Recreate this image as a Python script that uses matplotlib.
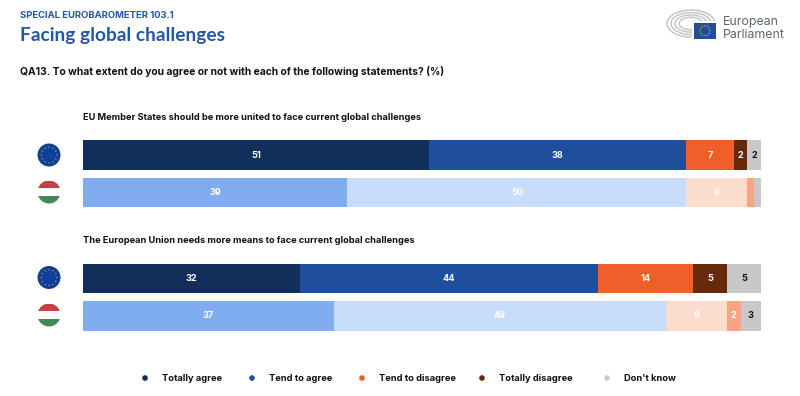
import numpy as np
import matplotlib
matplotlib.use("Agg")
import matplotlib.pyplot as plt
from matplotlib.patches import Circle, Rectangle, Ellipse

plt.rcParams['font.family'] = ['Inter', 'DejaVu Sans']

categories = ["Totally agree", "Tend to agree", "Tend to disagree", "Totally disagree", "Don't know"]
eu_united = [51, 38, 7, 2, 2]
hu_united = [39, 50, 9, 1, 1]
eu_means = [32, 44, 14, 5, 5]
hu_means = [37, 49, 9, 2, 3]
statements = ["EU Member States should be more united to face current global challenges",
              "The European Union needs more means to face current global challenges"]
eu_colors = ["#122e5a", "#1f4e9c", "#ee5f2a", "#662909", "#c8c8c8"]
hu_colors = ["#80adf0", "#c8dcfb", "#fbdccd", "#f6a481", "#c8c8c8"]
label_colors = ["white", "white", "white", "white", "#111111"]

W, H = 800, 396
fig = plt.figure(figsize=(8, 3.96), dpi=100, facecolor="white")

# pixel overlay
ov = fig.add_axes([0, 0, 1, 1])
ov.set_xlim(0, W); ov.set_ylim(H, 0); ov.axis("off")

# bars
ax = fig.add_axes([83/W, (H-331)/H, 678/W, 191/H])
ax.set_xlim(0, 100); ax.set_ylim(331, 140); ax.axis("off")
rows = [(155, eu_united, eu_colors), (192.5, hu_united, hu_colors),
        (278.5, eu_means, eu_colors), (316, hu_means, hu_colors)]
for y, vals, cols in rows:
    left = 0
    for i, v in enumerate(vals):
        ax.barh(y, v, left=left, height=29.5, color=cols[i], linewidth=0)
        if v >= 2:
            ax.text(left + v/2, y, str(v), color=label_colors[i], fontsize=6.6,
                    fontweight="bold", ha="center", va="center")
        left += v

# headings
blue = "#2457a6"
ov.text(20, 15.5, "SPECIAL EUROBAROMETER 103.1", color=blue, fontsize=6.8, fontweight="bold", va="center")
ov.text(20, 35, "Facing global challenges", color=blue, fontsize=13.8, fontweight="bold",
        va="center", family="Lato")
ov.text(20, 71.5, "QA13. To what extent do you agree or not with each of the following statements? (%)",
        color="#111111", fontsize=7.4, fontweight="bold", va="center")
ov.text(83, 117.5, statements[0], color="#111111", fontsize=6.65, fontweight="bold", va="center")
ov.text(83, 240.5, statements[1], color="#111111", fontsize=6.65, fontweight="bold", va="center")

# flags
def eu_flag(cx, cy, r=11.5):
    ov.add_patch(Circle((cx, cy), r, color="#103f9a", lw=0, zorder=2))
    for a in np.arange(12) * np.pi / 6:
        ov.add_patch(Circle((cx + 0.68*r*np.cos(a), cy + 0.68*r*np.sin(a)), 0.7,
                            color="#a89a4a", lw=0, zorder=3))

def hu_flag(cx, cy, r=11.5):
    clip = Circle((cx, cy), r, transform=ov.transData)
    for k, c in enumerate(["#c5403f", "#ffffff", "#3f8a5c"]):
        p = Rectangle((cx - r, cy - r + k*2*r/3), 2*r, 2*r/3, color=c, lw=0, zorder=2)
        ov.add_patch(p)
        p.set_clip_path(clip)

for yy in (155, 277.5):
    eu_flag(49, yy)
for yy in (192, 315):
    hu_flag(49, yy)

# legend
dots = [145, 252, 362, 482, 607]
for x, name, c in zip(dots, categories, eu_colors):
    ov.add_patch(Circle((x, 378), 2.8, color=c, lw=0))
    ov.text(x + 17, 378.5, name, color="#111111", fontsize=6.7, fontweight="bold", va="center")

# logo
for a_, b_ in ((24, 13.5), (20, 11), (16, 8.6), (12, 6.2)):
    ov.add_patch(Ellipse((691, 23.5), 2*a_, 2*b_, fill=False, ec="#c4c7ca", lw=1.1, zorder=1))
ov.add_patch(Rectangle((692, 21), 26, 19, color="white", lw=0, zorder=2))
ov.add_patch(Rectangle((694, 23), 22, 15.5, color="#1f4e9c", lw=0, zorder=3))
for a in np.arange(12) * np.pi / 6:
    ov.add_patch(Circle((705 + 5*np.cos(a), 30.7 + 5*np.sin(a)), 0.6, color="#e8d23a", lw=0, zorder=4))
ov.text(723, 21.5, "European", color="#5b6670", fontsize=8.9, va="center")
ov.text(723, 34.5, "Parliament", color="#5b6670", fontsize=8.9, va="center")

fig.savefig("out.png", dpi=100)
